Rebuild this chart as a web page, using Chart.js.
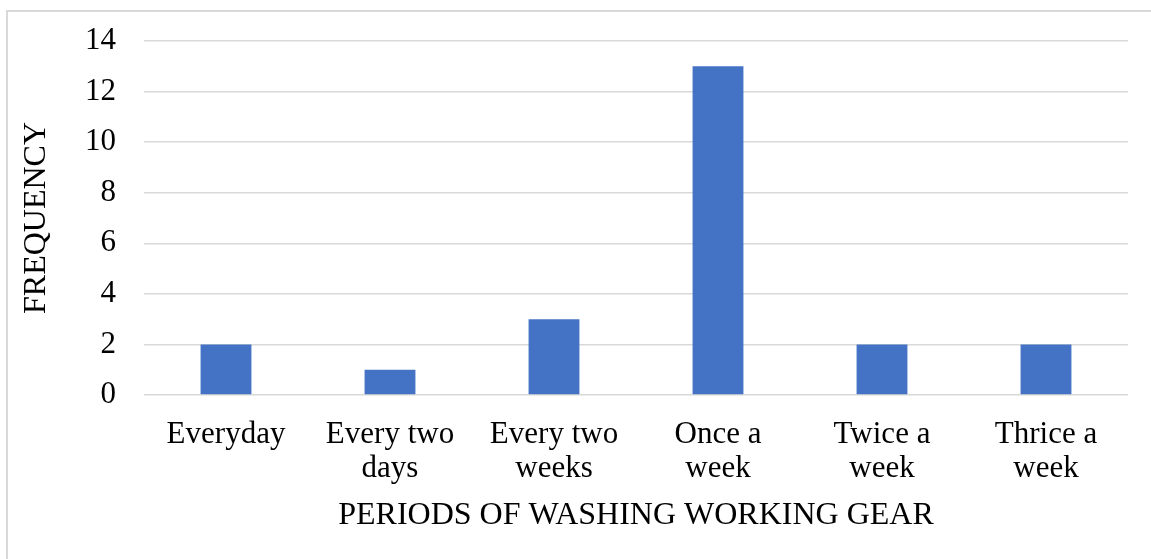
<!DOCTYPE html>
<html>
<head>
<meta charset="utf-8">
<script src="https://cdn.jsdelivr.net/npm/chart.js@4"></script>
<style>
  html, body { margin: 0; padding: 0; background: #fff; }
  #wrap { position: relative; width: 1151px; height: 559px; }
</style>
</head>
<body>
<div id="wrap"><canvas id="washChart"></canvas></div>
<script>
const periods = [
  ["Everyday"],
  ["Every two", "days"],
  ["Every two", "weeks"],
  ["Once a", "week"],
  ["Twice a", "week"],
  ["Thrice a", "week"]
];
const frequency = [2, 1, 3, 13, 2, 2];
const yTicks = [0, 2, 4, 6, 8, 10, 12, 14];

const FONT = "'Liberation Serif', 'Times New Roman', serif";
const GRID = "#d9d9d9";

// light frame around the whole chart, open on the right and bottom
const framePlugin = {
  id: "frame",
  beforeDraw(chart) {
    const ctx = chart.ctx;
    ctx.save();
    ctx.strokeStyle = "#d9d9d9";
    ctx.lineWidth = 2;
    ctx.strokeRect(7, 11, 1160, 560);
    ctx.restore();
  }
};

new Chart(document.getElementById("washChart").getContext("2d"), {
  type: "bar",
  data: {
    labels: periods,
    datasets: [{
      label: "Frequency",
      data: frequency,
      backgroundColor: "#4472c4",
      barPercentage: 0.31,
      categoryPercentage: 1
    }]
  },
  options: {
    responsive: true,
    maintainAspectRatio: false,
    animation: false,
    layout: { padding: { left: 14, right: 23, top: 41, bottom: 14 } },
    plugins: {
      legend: { display: false },
      tooltip: { enabled: false }
    },
    scales: {
      x: {
        grid: { display: false },
        border: { display: false },
        ticks: {
          color: "#000",
          padding: 15,
          maxRotation: 0,
          autoSkip: false,
          font: { family: FONT, size: 31, lineHeight: 1.1 }
        },
        title: {
          display: true,
          text: "PERIODS OF WASHING WORKING GEAR",
          color: "#000",
          padding: { top: 10, bottom: 12 },
          font: { family: FONT, size: 32, lineHeight: 1.1 }
        },
        afterFit(scale) { scale.height = 150; }
      },
      y: {
        min: 0,
        max: 14,
        afterBuildTicks(scale) { scale.ticks = yTicks.map(v => ({ value: v })); },
        grid: { color: GRID, lineWidth: 1.5, drawTicks: false },
        border: { display: false },
        ticks: {
          color: "#000",
          padding: 28,
          font: { family: FONT, size: 31 }
        },
        title: {
          display: true,
          text: "FREQUENCY",
          color: "#000",
          padding: { top: 5, bottom: 0 },
          font: { family: FONT, size: 32, lineHeight: 1.1 }
        },
        afterFit(scale) {
          scale.width = 130;
          // let layout padding alone set the plot top
          scale.paddingTop = 0;
          scale.paddingBottom = 0;
        }
      }
    }
  },
  plugins: [framePlugin]
});
</script>
</body>
</html>
